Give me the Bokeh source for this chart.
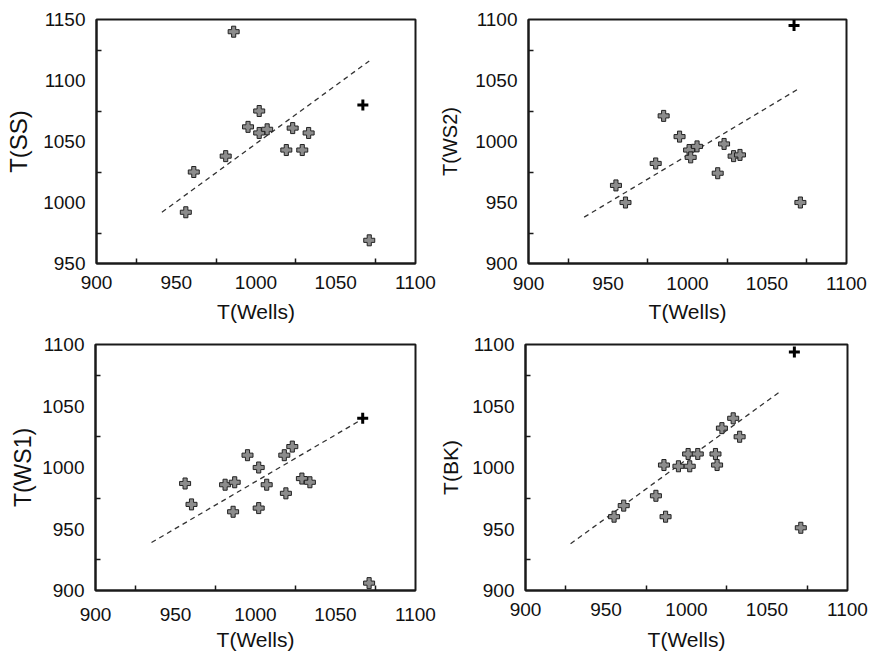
from bokeh.plotting import figure
from bokeh.layouts import column, row
from bokeh.models import Range1d, FixedTicker
from bokeh.embed import file_html
from bokeh.resources import INLINE

# ---------------- data ----------------
# Panel 1: T(SS) vs T(Wells)
wells_ss = [986, 1002, 995, 1002, 1007, 1023, 1033, 1019, 1029, 981, 961, 956, 1071]
t_ss = [1140, 1075, 1062, 1057, 1060, 1061, 1057, 1043, 1043, 1038, 1025, 992, 969]
hl_wells_ss = [1067]
hl_t_ss = [1080]
fit_wells_ss = [941, 1071]
fit_t_ss = [992, 1116]

# Panel 2: T(WS2) vs T(Wells)
wells_ws2 = [985, 995, 1001, 1006, 1002, 1023, 1029, 1033, 1019, 980, 955, 961, 1071]
t_ws2 = [1021, 1004, 993, 996, 987, 998, 988, 989, 974, 982, 964, 950, 950]
hl_wells_ws2 = [1067]
hl_t_ws2 = [1095]
fit_wells_ws2 = [935, 1069]
fit_t_ws2 = [938, 1042.5]

# Panel 3: T(WS1) vs T(Wells)
wells_ws1 = [1071, 956, 960, 981, 987, 986, 995, 1002, 1002, 1007, 1018, 1023, 1019, 1029, 1034]
t_ws1 = [906, 987, 970, 986, 988, 964, 1010, 1000, 967, 986, 1010, 1017, 979, 991, 988]
hl_wells_ws1 = [1067]
hl_t_ws1 = [1040]
fit_wells_ws1 = [935, 1067]
fit_t_ws1 = [939, 1039.5]

# Panel 4: T(BK) vs T(Wells)
wells_bk = [1071, 955, 961, 981, 987, 986, 995, 1002, 1001, 1007, 1018, 1019, 1022, 1029, 1033]
t_bk = [951, 960, 969, 977, 960, 1002, 1001, 1001, 1011, 1011, 1011, 1002, 1032, 1040, 1025]
hl_wells_bk = [1067]
hl_t_bk = [1094]
fit_wells_bk = [928, 1058]
fit_t_bk = [938, 1061.6]

x_major = [900, 950, 1000, 1050, 1100]
x_minor = [925, 975, 1025, 1075]
y_major_ss = [950, 1000, 1050, 1100, 1150]
y_minor_ss = [975, 1025, 1075, 1125]
y_major = [900, 950, 1000, 1050, 1100]
y_minor = [925, 975, 1025, 1075]

x_title = "T(Wells)"
y_titles = ["T(SS)", "T(WS2)", "T(WS1)", "T(BK)"]

FONT = "Liberation Sans"


def panel(xs, ys, hx, hy, fx, fy, yr, ymaj, ymin, ytitle, lay):
    p = figure(width=lay["w"], height=lay["h"], output_backend="svg",
               toolbar_location=None, x_range=Range1d(900, 1100),
               y_range=Range1d(*yr))
    p.min_border_left = lay["l"]
    p.min_border_right = lay["r"]
    p.min_border_top = lay["t"]
    p.min_border_bottom = lay["b"]
    p.grid.visible = False
    p.outline_line_color = "#1a1a1a"
    p.outline_line_width = 2
    p.background_fill_color = "white"
    p.border_fill_color = "white"

    p.xaxis.ticker = FixedTicker(ticks=x_major, minor_ticks=x_minor)
    p.yaxis.ticker = FixedTicker(ticks=ymaj, minor_ticks=ymin)
    for ax in (p.xaxis, p.yaxis):
        ax.axis_line_color = "#1a1a1a"
        ax.axis_line_width = 2
        ax.major_tick_in = 0
        ax.major_tick_out = 0
        ax.minor_tick_in = 5
        ax.minor_tick_out = 0
        ax.minor_tick_line_color = "#1a1a1a"
        ax.minor_tick_line_width = 1.5
        ax.major_label_text_font = FONT
        ax.major_label_text_font_size = "19px"
        ax.major_label_text_color = "#111111"
        ax.axis_label_text_font = FONT
        ax.axis_label_text_font_style = "normal"
        ax.axis_label_text_color = "#111111"
    p.xaxis.major_label_standoff = lay["xs"]
    p.yaxis.major_label_standoff = 11
    p.xaxis.axis_label = x_title
    p.xaxis.axis_label_text_font_size = "21px"
    p.xaxis.axis_label_standoff = lay["xls"]
    p.yaxis.axis_label = ytitle
    p.yaxis.axis_label_text_font_size = lay["ysz"]
    p.yaxis.axis_label_standoff = lay["yls"]

    p.line(fx, fy, line_color="#333333", line_width=1.3, line_dash="5 4")
    p.scatter(xs, ys, marker="plus", size=11, fill_color="#8c8c8c",
              line_color="#222222", line_width=1)
    p.scatter(hx, hy, marker="cross", size=11, line_color="#000000",
              line_width=3)
    return p


L1 = dict(w=436, h=325, l=96, r=21, t=19, b=60, xs=12, xls=8, ysz="24px", yls=8)
L2 = dict(w=437, h=325, l=91, r=27, t=19, b=62, xs=13, xls=7, ysz="20px", yls=11)
L3 = dict(w=436, h=328, l=95, r=21, t=19, b=61, xs=17, xls=4, ysz="23px", yls=3)
L4 = dict(w=437, h=328, l=88, r=26, t=18, b=61, xs=12, xls=9, ysz="21px", yls=7)

p1 = panel(wells_ss, t_ss, hl_wells_ss, hl_t_ss, fit_wells_ss, fit_t_ss,
           (950, 1150), y_major_ss, y_minor_ss, y_titles[0], L1)
p2 = panel(wells_ws2, t_ws2, hl_wells_ws2, hl_t_ws2, fit_wells_ws2, fit_t_ws2,
           (900, 1100), y_major, y_minor, y_titles[1], L2)
p3 = panel(wells_ws1, t_ws1, hl_wells_ws1, hl_t_ws1, fit_wells_ws1, fit_t_ws1,
           (900, 1100), y_major, y_minor, y_titles[2], L3)
p4 = panel(wells_bk, t_bk, hl_wells_bk, hl_t_bk, fit_wells_bk, fit_t_bk,
           (900, 1100), y_major, y_minor, y_titles[3], L4)

layout = column(row(p1, p2), row(p3, p4))
open("out.html", "w").write(file_html(layout, INLINE))
